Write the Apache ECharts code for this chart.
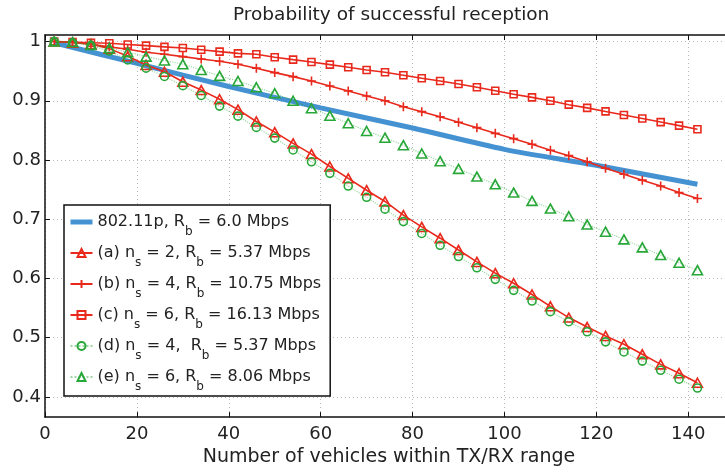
<!DOCTYPE html>
<html><head><meta charset="utf-8">
<script src="https://cdn.jsdelivr.net/npm/echarts@6/dist/echarts.min.js"></script>
<style>html,body{margin:0;padding:0;background:#fff}#c{width:725px;height:472px}</style>
</head><body><div id="c"></div>
<script>
// ---- data ----
const xValues = [2,6,10,14,18,22,26,30,34,38,42,46,50,54,58,62,66,70,74,78,82,86,90,94,98,102,106,110,114,118,122,126,130,134,138,142];
const blueX = [2,20,40,60,80,100,120,142];
const blueY = [0.998,0.963,0.924,0.888,0.854,0.818,0.791,0.759];
const seriesA = [1.0,0.998,0.996,0.988,0.975,0.9605,0.949,0.932,0.918,0.9025,0.885,0.865,0.847,0.828,0.810,0.789,0.769,0.749,0.730,0.707,0.687,0.668,0.648,0.628,0.609,0.592,0.573,0.553,0.534,0.518,0.503,0.489,0.472,0.455,0.440,0.424];
const seriesB = [1.0,0.999,0.9955,0.991,0.987,0.982,0.9785,0.9745,0.9706,0.9667,0.9617,0.955,0.9475,0.9407,0.9334,0.925,0.9166,0.908,0.900,0.890,0.8816,0.873,0.8637,0.8546,0.845,0.836,0.8265,0.8164,0.8073,0.797,0.786,0.776,0.766,0.756,0.745,0.735];
const seriesC = [1.0,0.999,0.998,0.997,0.995,0.993,0.991,0.989,0.986,0.983,0.980,0.9785,0.9735,0.9694,0.9655,0.961,0.9566,0.952,0.948,0.943,0.938,0.9334,0.9284,0.9228,0.917,0.911,0.9057,0.900,0.8934,0.888,0.882,0.876,0.870,0.864,0.858,0.852];
const seriesD = [1.0,0.998,0.993,0.984,0.969,0.955,0.941,0.9255,0.909,0.891,0.874,0.855,0.837,0.817,0.797,0.7775,0.756,0.737,0.717,0.696,0.676,0.656,0.637,0.618,0.5985,0.580,0.562,0.544,0.527,0.510,0.493,0.476,0.4605,0.445,0.430,0.415];
const seriesE = [1.0,0.999,0.994,0.989,0.982,0.9745,0.968,0.9617,0.952,0.942,0.9334,0.9228,0.9127,0.900,0.8873,0.8748,0.862,0.849,0.8377,0.825,0.811,0.798,0.785,0.772,0.759,0.745,0.731,0.718,0.705,0.691,0.679,0.666,0.6525,0.6395,0.6265,0.614];
const xTicks = [0,20,40,60,80,100,120,140];
const xTickLabels = ['0','20','40','60','80','100','120','140'];
const yTicks = [0.4,0.5,0.6,0.7,0.8,0.9,1.0];
const yTickLabels = ['0.4','0.5','0.6','0.7','0.8','0.9','1'];
const names = ['802.11p','(a)','(b)','(c)','(d)','(e)'];
const legendRich = {
  '802.11p': '{t|802.11p, R}{s|b}{t| = 6.0 Mbps}',
  '(a)': '{t|(a) n}{s|s}{t| = 2, R}{s|b}{t| = 5.37 Mbps}',
  '(b)': '{t|(b) n}{s|s}{t| = 4, R}{s|b}{t| = 10.75 Mbps}',
  '(c)': '{t|(c) n}{s|s}{t| = 6, R}{s|b}{t| = 16.13 Mbps}',
  '(d)': '{t|(d) n}{s|s}{t| = 4,  R}{s|b}{t| = 5.37 Mbps}',
  '(e)': '{t|(e) n}{s|s}{t| = 6, R}{s|b}{t| = 8.06 Mbps}'
};
const titleText = 'Probability of successful reception';
const xName = 'Number of vehicles within TX/RX range';

// ---- chart ----
const FONT = 'DejaVu Sans';
const RED = '#e8291c', GREEN = '#27a737', BLUE = '#4592d2', TXT = '#222';
function mk(name, vals, symbol, size, color, dotted) {
  return {
    name: name, type: 'line', data: xValues.map((x, i) => [x, vals[i]]),
    symbol: symbol, symbolSize: size, showAllSymbol: true,
    lineStyle: {color: dotted ? 'rgba(39,167,55,0.45)' : color, width: dotted ? 1.2 : 1.6, type: dotted ? 'dotted' : 'solid'},
    itemStyle: {color: 'rgba(255,255,255,0)', borderColor: color, borderWidth: 1.6},
    emphasis: {disabled: true}, z: 3
  };
}
const legendData = names.map(n => n === '802.11p'
  ? {name: n, itemStyle: {color: 'rgba(0,0,0,0)', borderColor: 'rgba(0,0,0,0)', borderWidth: 0}, lineStyle: {width: 5, color: BLUE}}
  : {name: n});
const chart = echarts.init(document.getElementById('c'));
chart.setOption({
  animation: false,
  backgroundColor: '#fff',
  title: {text: titleText, left: 228, top: 1, textStyle: {fontFamily: FONT, fontSize: 18.5, fontWeight: 'normal', color: TXT}},
  grid: {left: 45, right: 0, top: 35, bottom: 54.7},
  legend: {
    orient: 'vertical', left: 64, top: 205, data: legendData,
    padding: [9, 9, 3, 4], itemGap: 7, itemWidth: 22, itemHeight: 10,
    backgroundColor: '#fff', borderColor: '#111', borderWidth: 1.5, borderRadius: 0,
    formatter: n => legendRich[n],
    textStyle: {fontFamily: FONT, color: TXT, rich: {
      t: {fontFamily: FONT, fontSize: 16, lineHeight: 20, color: TXT},
      s: {fontFamily: FONT, fontSize: 12, lineHeight: 0, padding: [20, 0, 0, 0], color: TXT}
    }}
  },
  xAxis: [{
    type: 'value', min: 0, max: 148, position: 'bottom',
    name: xName, nameLocation: 'middle', nameGap: 30,
    nameTextStyle: {fontFamily: FONT, fontSize: 19, color: TXT, padding: [0, 0, 0, 8]},
    axisLine: {show: true, onZero: false, lineStyle: {color: '#111', width: 1.5}},
    axisTick: {show: true, inside: true, length: 5, customValues: xTicks, lineStyle: {color: '#111'}},
    axisLabel: {customValues: xTicks, formatter: v => xTickLabels[xTicks.indexOf(v)], fontFamily: FONT, fontSize: 18, color: TXT, margin: 8},
    splitLine: {show: true, lineStyle: {type: [1, 3], color: '#b8b8b8', width: 1}}
  }, {
    type: 'value', min: 0, max: 148, position: 'top',
    axisLine: {show: true, onZero: false, lineStyle: {color: '#111', width: 1.5}},
    axisTick: {show: true, inside: true, length: 5, customValues: xTicks, lineStyle: {color: '#111'}},
    axisLabel: {show: false}, splitLine: {show: false}
  }],
  yAxis: {
    type: 'value', min: 0.366, max: 1.011,
    axisLine: {show: true, onZero: false, lineStyle: {color: '#111', width: 1.5}},
    axisTick: {show: true, inside: true, length: 5, customValues: yTicks, lineStyle: {color: '#111'}},
    axisLabel: {customValues: yTicks, formatter: v => yTickLabels[yTicks.findIndex(t => Math.abs(t - v) < 1e-6)], fontFamily: FONT, fontSize: 18, color: TXT, margin: 4},
    splitLine: {show: true, lineStyle: {type: [1, 3], color: '#b8b8b8', width: 1}}
  },
  series: [
    {name: '802.11p', type: 'line', data: blueX.map((x, i) => [x, blueY[i]]), symbol: 'none', smooth: 0.3,
     lineStyle: {color: BLUE, width: 5}, itemStyle: {color: BLUE}, emphasis: {disabled: true}, z: 2},
    mk('(a)', seriesA, 'triangle', [10, 9], RED, false),
    mk('(b)', seriesB, 'path://M5,0L5,10M0,5L10,5', 9, RED, false),
    mk('(c)', seriesC, 'rect', 7, RED, false),
    mk('(d)', seriesD, 'circle', 8, GREEN, true),
    mk('(e)', seriesE, 'triangle', [10, 9], GREEN, true)
  ]
});
</script></body></html>
